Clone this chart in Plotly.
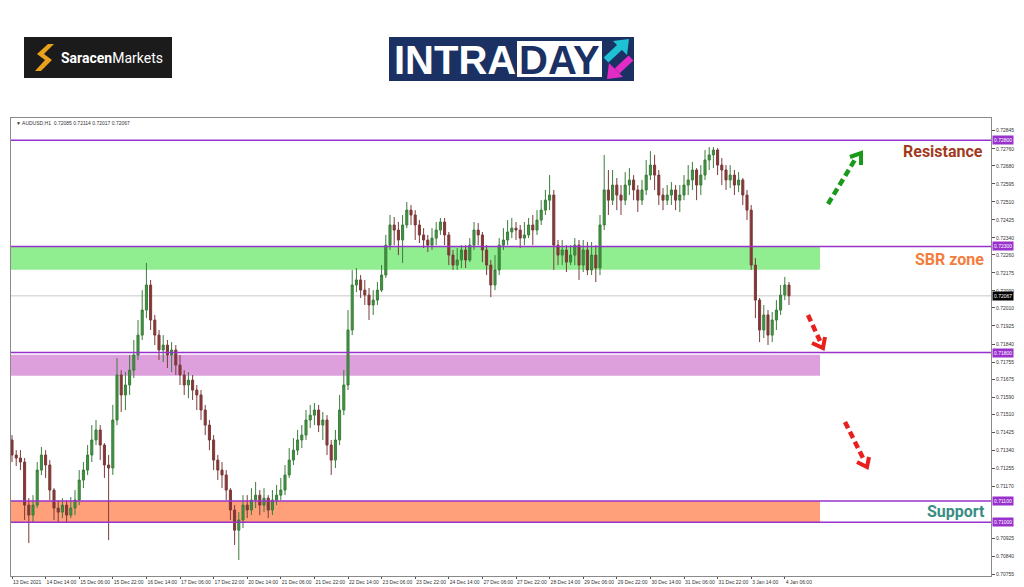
import plotly.graph_objects as go

# ---------------- data (AUDUSD, 2-hour candles) ----------------
opens = [0.71388, 0.71317, 0.71303, 0.71284, 0.71081, 0.71034, 0.71081, 0.71246, 0.71317, 0.71270,
         0.71152, 0.71067, 0.71048, 0.71081, 0.71034, 0.71067, 0.71105, 0.71199, 0.71246, 0.71317,
         0.71388, 0.71435, 0.71364, 0.71270, 0.71256, 0.71482, 0.71694, 0.71600, 0.71647, 0.71717,
         0.71788, 0.71882, 0.72000, 0.72118, 0.71953, 0.71882, 0.71812, 0.71835, 0.71788, 0.71812,
         0.71741, 0.71694, 0.71647, 0.71670, 0.71623, 0.71600, 0.71529, 0.71458, 0.71388, 0.71293,
         0.71246, 0.71223, 0.71152, 0.71058, 0.70963, 0.71011, 0.71081, 0.71058, 0.71105, 0.71128,
         0.71081, 0.71114, 0.71058, 0.71105, 0.71128, 0.71152, 0.71223, 0.71293, 0.71340, 0.71388,
         0.71411, 0.71482, 0.71505, 0.71529, 0.71458, 0.71482, 0.71364, 0.71293, 0.71388, 0.71529,
         0.71647, 0.71906, 0.72118, 0.72142, 0.72094, 0.72071, 0.72024, 0.72047, 0.72094, 0.72165,
         0.72306, 0.72401, 0.72377, 0.72330, 0.72401, 0.72471, 0.72448, 0.72401, 0.72354, 0.72330,
         0.72306, 0.72339, 0.72377, 0.72415, 0.72354, 0.72259, 0.72212, 0.72236, 0.72283, 0.72236,
         0.72306, 0.72377, 0.72354, 0.72283, 0.72212, 0.72118, 0.72189, 0.72306, 0.72330, 0.72368,
         0.72386, 0.72377, 0.72339, 0.72354, 0.72401, 0.72377, 0.72424, 0.72471, 0.72518, 0.72542,
         0.72306, 0.72259, 0.72283, 0.72226, 0.72259, 0.72306, 0.72212, 0.72283, 0.72189, 0.72259,
         0.72198, 0.72401, 0.72566, 0.72518, 0.72589, 0.72542, 0.72518, 0.72589, 0.72613, 0.72566,
         0.72518, 0.72566, 0.72636, 0.72683, 0.72636, 0.72542, 0.72518, 0.72542, 0.72566, 0.72518,
         0.72542, 0.72589, 0.72613, 0.72660, 0.72589, 0.72636, 0.72707, 0.72731, 0.72754, 0.72683,
         0.72660, 0.72613, 0.72636, 0.72589, 0.72613, 0.72542, 0.72471, 0.72212, 0.72047, 0.71906,
         0.71977, 0.71882, 0.71953, 0.72000, 0.72071, 0.72118]
highs = [0.71411, 0.71340, 0.71340, 0.71303, 0.71114, 0.71128, 0.71284, 0.71355, 0.71340, 0.71293,
         0.71161, 0.71105, 0.71114, 0.71105, 0.71119, 0.71152, 0.71246, 0.71284, 0.71364, 0.71458,
         0.71482, 0.71458, 0.71373, 0.71317, 0.71553, 0.71774, 0.71717, 0.71708, 0.71788, 0.71859,
         0.71953, 0.72094, 0.72222, 0.72142, 0.71977, 0.71906, 0.71882, 0.71859, 0.71849, 0.71835,
         0.71788, 0.71717, 0.71708, 0.71694, 0.71647, 0.71623, 0.71553, 0.71482, 0.71411, 0.71317,
         0.71284, 0.71246, 0.71161, 0.71081, 0.71048, 0.71128, 0.71128, 0.71161, 0.71190, 0.71152,
         0.71161, 0.71128, 0.71152, 0.71176, 0.71209, 0.71270, 0.71350, 0.71397, 0.71435, 0.71458,
         0.71529, 0.71553, 0.71562, 0.71553, 0.71520, 0.71505, 0.71388, 0.71435, 0.71600, 0.71717,
         0.72000, 0.72189, 0.72198, 0.72165, 0.72142, 0.72104, 0.72094, 0.72132, 0.72212, 0.72354,
         0.72448, 0.72438, 0.72415, 0.72448, 0.72509, 0.72495, 0.72471, 0.72424, 0.72386, 0.72354,
         0.72386, 0.72415, 0.72434, 0.72434, 0.72368, 0.72283, 0.72292, 0.72306, 0.72306, 0.72339,
         0.72415, 0.72410, 0.72368, 0.72306, 0.72236, 0.72259, 0.72339, 0.72386, 0.72424, 0.72434,
         0.72415, 0.72401, 0.72415, 0.72434, 0.72448, 0.72471, 0.72518, 0.72566, 0.72636, 0.72566,
         0.72330, 0.72330, 0.72306, 0.72306, 0.72339, 0.72330, 0.72330, 0.72321, 0.72321, 0.72306,
         0.72448, 0.72731, 0.72660, 0.72660, 0.72622, 0.72589, 0.72650, 0.72669, 0.72636, 0.72589,
         0.72613, 0.72707, 0.72749, 0.72731, 0.72660, 0.72575, 0.72589, 0.72603, 0.72589, 0.72589,
         0.72636, 0.72683, 0.72698, 0.72669, 0.72683, 0.72754, 0.72768, 0.72768, 0.72763, 0.72716,
         0.72683, 0.72683, 0.72660, 0.72650, 0.72622, 0.72566, 0.72495, 0.72245, 0.72057, 0.72024,
         0.72000, 0.71991, 0.72047, 0.72118, 0.72156, 0.72132]
lows = [0.71284, 0.71265, 0.71246, 0.71011, 0.70902, 0.71001, 0.71067, 0.71223, 0.71209, 0.71105,
        0.71011, 0.71001, 0.71020, 0.71001, 0.71020, 0.71034, 0.71081, 0.71161, 0.71223, 0.71284,
        0.71364, 0.71293, 0.71209, 0.70916, 0.71223, 0.71458, 0.71520, 0.71529, 0.71600, 0.71680,
        0.71765, 0.71859, 0.71962, 0.71906, 0.71835, 0.71765, 0.71755, 0.71727, 0.71708, 0.71694,
        0.71647, 0.71600, 0.71585, 0.71576, 0.71529, 0.71482, 0.71411, 0.71340, 0.71246, 0.71199,
        0.71161, 0.71105, 0.71011, 0.70893, 0.70822, 0.70973, 0.71020, 0.71034, 0.71067, 0.71034,
        0.71048, 0.71020, 0.71034, 0.71081, 0.71105, 0.71128, 0.71209, 0.71270, 0.71317, 0.71350,
        0.71388, 0.71444, 0.71458, 0.71425, 0.71388, 0.71317, 0.71223, 0.71256, 0.71364, 0.71505,
        0.71623, 0.71882, 0.72085, 0.72057, 0.72024, 0.71953, 0.71977, 0.72024, 0.72085, 0.72151,
        0.72283, 0.72306, 0.72259, 0.72222, 0.72386, 0.72401, 0.72330, 0.72316, 0.72292, 0.72273,
        0.72283, 0.72306, 0.72354, 0.72306, 0.72212, 0.72189, 0.72189, 0.72198, 0.72198, 0.72226,
        0.72283, 0.72306, 0.72226, 0.72165, 0.72061, 0.72094, 0.72165, 0.72283, 0.72306, 0.72339,
        0.72330, 0.72292, 0.72306, 0.72339, 0.72306, 0.72354, 0.72401, 0.72448, 0.72471, 0.72189,
        0.72212, 0.72212, 0.72179, 0.72212, 0.72212, 0.72142, 0.72179, 0.72165, 0.72165, 0.72132,
        0.72165, 0.72377, 0.72448, 0.72495, 0.72471, 0.72448, 0.72495, 0.72542, 0.72518, 0.72462,
        0.72495, 0.72542, 0.72613, 0.72566, 0.72495, 0.72471, 0.72495, 0.72495, 0.72471, 0.72462,
        0.72518, 0.72542, 0.72566, 0.72518, 0.72542, 0.72613, 0.72660, 0.72669, 0.72636, 0.72589,
        0.72566, 0.72575, 0.72542, 0.72556, 0.72495, 0.72424, 0.72189, 0.71962, 0.71849, 0.71868,
        0.71835, 0.71849, 0.71906, 0.71977, 0.72047, 0.72024]
closes = [0.71317, 0.71303, 0.71284, 0.71081, 0.71034, 0.71081, 0.71246, 0.71317, 0.71270, 0.71152,
          0.71067, 0.71048, 0.71081, 0.71034, 0.71067, 0.71105, 0.71199, 0.71246, 0.71317, 0.71388,
          0.71435, 0.71364, 0.71270, 0.71256, 0.71482, 0.71694, 0.71600, 0.71647, 0.71717, 0.71788,
          0.71882, 0.72000, 0.72118, 0.71953, 0.71882, 0.71812, 0.71835, 0.71788, 0.71812, 0.71741,
          0.71694, 0.71647, 0.71670, 0.71623, 0.71600, 0.71529, 0.71458, 0.71388, 0.71293, 0.71246,
          0.71223, 0.71152, 0.71058, 0.70963, 0.71011, 0.71081, 0.71058, 0.71105, 0.71128, 0.71081,
          0.71114, 0.71058, 0.71105, 0.71128, 0.71152, 0.71223, 0.71293, 0.71340, 0.71388, 0.71411,
          0.71482, 0.71505, 0.71529, 0.71458, 0.71482, 0.71364, 0.71293, 0.71388, 0.71529, 0.71647,
          0.71906, 0.72118, 0.72142, 0.72094, 0.72071, 0.72024, 0.72047, 0.72094, 0.72165, 0.72306,
          0.72401, 0.72377, 0.72330, 0.72401, 0.72471, 0.72448, 0.72401, 0.72354, 0.72330, 0.72306,
          0.72339, 0.72377, 0.72415, 0.72354, 0.72259, 0.72212, 0.72236, 0.72283, 0.72236, 0.72306,
          0.72377, 0.72354, 0.72283, 0.72212, 0.72118, 0.72189, 0.72306, 0.72330, 0.72368, 0.72386,
          0.72377, 0.72339, 0.72354, 0.72401, 0.72377, 0.72424, 0.72471, 0.72518, 0.72542, 0.72306,
          0.72259, 0.72283, 0.72226, 0.72259, 0.72306, 0.72212, 0.72283, 0.72189, 0.72259, 0.72198,
          0.72401, 0.72566, 0.72518, 0.72589, 0.72542, 0.72518, 0.72589, 0.72613, 0.72566, 0.72518,
          0.72566, 0.72636, 0.72683, 0.72636, 0.72542, 0.72518, 0.72542, 0.72566, 0.72518, 0.72542,
          0.72589, 0.72613, 0.72660, 0.72589, 0.72636, 0.72707, 0.72731, 0.72754, 0.72683, 0.72660,
          0.72613, 0.72636, 0.72589, 0.72613, 0.72542, 0.72471, 0.72212, 0.72047, 0.71906, 0.71977,
          0.71882, 0.71953, 0.72000, 0.72071, 0.72118, 0.72067]

tick_bars = [0, 8, 16, 24, 32, 40, 48, 56, 64, 72, 80, 88, 96, 104, 112, 120,
             128, 136, 144, 152, 160, 168, 176, 184]
tick_labels = ["13 Dec 2021", "14 Dec 14:00", "15 Dec 06:00", "15 Dec 22:00", "16 Dec 14:00",
               "17 Dec 06:00", "17 Dec 22:00", "20 Dec 14:00", "21 Dec 06:00", "21 Dec 22:00",
               "22 Dec 14:00", "23 Dec 06:00", "23 Dec 22:00", "24 Dec 14:00", "27 Dec 06:00",
               "27 Dec 22:00", "28 Dec 14:00", "29 Dec 06:00", "29 Dec 22:00", "30 Dec 14:00",
               "31 Dec 06:00", "31 Dec 22:00", "3 Jan 14:00", "4 Jan 06:00"]
price_ticks = [0.70755, 0.70840, 0.70925, 0.71170, 0.71255, 0.71340, 0.71425, 0.71510,
               0.71590, 0.71675, 0.71755, 0.71840, 0.71925, 0.72010, 0.72090, 0.72175,
               0.72260, 0.72340, 0.72425, 0.72510, 0.72595, 0.72680, 0.72760, 0.72845]

level_lines = [0.72800, 0.72300, 0.71800, 0.71100, 0.71000]
sbr_zone = (0.72190, 0.72300)
lower_zone = (0.71690, 0.71790)
support_zone = (0.71000, 0.71100)
last_price = 0.72067
header = "▼ AUDUSD,H1  0.72085 0.72114 0.72017 0.72067"

# ---------------- layout helpers (page pixels -> paper) ----------------
OFF = 8                      # default page body margin of the html page
W, H = 1024 - OFF, 587 - OFF
L, R, T, B = 11, 991, 118, 576   # plot frame in page pixels
def px(x):
    return (x - L) / (R - L)
def py(y):
    return (B - y) / (B - T)
def path(points, close=False):
    s = "M " + " L ".join(f"{px(x):.5f},{py(y):.5f}" for x, y in points)
    return s + (" Z" if close else "")

bars = list(range(len(closes)))

fig = go.Figure()
fig.add_trace(go.Candlestick(
    x=bars, open=opens, high=highs, low=lows, close=closes,
    increasing=dict(line=dict(color="#3b7d3b", width=1), fillcolor="#3f963f"),
    decreasing=dict(line=dict(color="#7a3b3b", width=1), fillcolor="#8b3434"),
    whiskerwidth=0, hoverinfo="skip", showlegend=False))

shapes = []
for (lo, hi), col in [(sbr_zone, "#90EE90"), (lower_zone, "#DDA0DD"), (support_zone, "#FFA07A")]:
    shapes.append(dict(type="rect", xref="paper", yref="y", x0=0, x1=px(820), y0=lo, y1=hi,
                       fillcolor=col, line=dict(width=0), layer="below"))
shapes.append(dict(type="line", xref="paper", yref="y", x0=0, x1=1, y0=last_price, y1=last_price,
                   line=dict(color="#c8c8c8", width=1), layer="below"))
for lv in level_lines:
    shapes.append(dict(type="line", xref="paper", yref="y", x0=0, x1=1, y0=lv, y1=lv,
                       line=dict(color="#9932CC", width=1.5), layer="above"))

def dashed_arrow(p0, p1, tip, arm1, arm2, color):
    shapes.append(dict(type="line", xref="paper", yref="paper",
                       x0=px(p0[0]), y0=py(p0[1]), x1=px(p1[0]), y1=py(p1[1]),
                       line=dict(color=color, width=4.5, dash="7px,4px")))
    shapes.append(dict(type="path", xref="paper", yref="paper",
                       path=path([arm1, tip, arm2]), line=dict(color=color, width=4)))

dashed_arrow((828, 204), (856, 158), (861, 153), (850, 157), (861, 165), "#1a9a1a")
dashed_arrow((808, 315), (820, 341), (823, 348), (812, 343), (825, 337), "#e8201c")
dashed_arrow((845, 422), (864, 460), (867, 467), (857, 462), (869, 457), "#e8201c")

# ---- logos ----
shapes.append(dict(type="rect", xref="paper", yref="paper", x0=px(24), x1=px(172), y0=py(78), y1=py(37),
                   fillcolor="#1b1b1b", line=dict(width=0)))
shapes.append(dict(type="path", xref="paper", yref="paper",
                   path=path([(48, 44), (37, 54), (45, 60), (35, 71), (41, 71), (52, 60), (44, 54), (54, 44)], True),
                   fillcolor="#E8A21C", line=dict(width=0)))
shapes.append(dict(type="rect", xref="paper", yref="paper", x0=px(389), x1=px(634), y0=py(81), y1=py(37),
                   fillcolor="#1b3163", line=dict(width=0)))
shapes.append(dict(type="rect", xref="paper", yref="paper", x0=px(517), x1=px(602), y0=py(77), y1=py(41),
                   fillcolor="#ffffff", line=dict(width=0)))
shapes.append(dict(type="line", xref="paper", yref="paper", x0=px(606), y0=py(60), x1=px(620), y1=py(47),
                   line=dict(color="#1fc2d4", width=7)))
shapes.append(dict(type="path", xref="paper", yref="paper",
                   path=path([(629, 39), (613, 41), (627, 55)], True), fillcolor="#1fc2d4", line=dict(width=0)))
shapes.append(dict(type="line", xref="paper", yref="paper", x0=px(631), y0=py(58), x1=px(617), y1=py(71),
                   line=dict(color="#e32bc6", width=7)))
shapes.append(dict(type="path", xref="paper", yref="paper",
                   path=path([(607, 79), (623, 77), (609, 63)], True), fillcolor="#e32bc6", line=dict(width=0)))

annotations = []
def text(x, y, s, size, color, anchor="center", family="Roboto"):
    annotations.append(dict(xref="paper", yref="paper", x=px(x), y=py(y), text=s, showarrow=False,
                            xanchor=anchor, yanchor="middle",
                            font=dict(size=size, color=color, family=family)))

text(59, 58, "<b>Saracen</b>Markets", 14, "#ffffff", "left")
text(455, 60, "<b>INTRA</b>", 40, "#ffffff", "center", "Liberation Sans")
text(559.5, 60, "<b>DAY</b>", 40, "#1b3163", "center", "Liberation Sans")
text(14, 123, header, 5, "#333333", "left", "Liberation Sans")
text(943, 151, "<b>Resistance</b>", 16, "#A23B1E")
text(949, 260, "<b>SBR zone</b>", 16, "#F47C3C")
text(956, 511, "<b>Support</b>", 16, "#3A8C85")

for lv in level_lines:
    annotations.append(dict(xref="paper", yref="y", x=1, y=lv, xanchor="left", yanchor="middle",
                            xshift=1, text=f"{lv:.5f}", showarrow=False, bgcolor="#9932CC",
                            borderpad=1, font=dict(size=5, color="#ffffff", family="Liberation Sans")))
annotations.append(dict(xref="paper", yref="y", x=1, y=last_price, xanchor="left", yanchor="middle",
                        xshift=1, text=f"{last_price:.5f}", showarrow=False, bgcolor="#000000",
                        borderpad=1, font=dict(size=5, color="#ffffff", family="Liberation Sans")))

fig.update_layout(
    width=W, height=H,
    margin=dict(l=L - OFF, r=1024 - R, t=T - OFF, b=587 - B, autoexpand=False),
    paper_bgcolor="#ffffff", plot_bgcolor="#ffffff",
    shapes=shapes, annotations=annotations, showlegend=False,
    xaxis=dict(range=[-0.24, (R - 12) / 4.2], rangeslider=dict(visible=False),
               tickvals=tick_bars, ticktext=tick_labels, ticks="outside", ticklen=2,
               tickangle=0, tickcolor="#555555", ticklabelposition="outside right",
               ticklabelstandoff=1,
               tickfont=dict(size=5, color="#333333", family="Liberation Sans"),
               showgrid=False, zeroline=False, showline=True, linecolor="#8a8a8a",
               linewidth=1, mirror=True, automargin=False),
    yaxis=dict(range=[0.70747, 0.72905], side="right", tickvals=price_ticks, tickformat=".5f",
               ticks="outside", ticklen=3, tickcolor="#555555",
               tickfont=dict(size=5, color="#333333", family="Liberation Sans"),
               showgrid=False, zeroline=False, showline=True, linecolor="#8a8a8a",
               linewidth=1, mirror=True, automargin=False),
)

fig.write_html("out.html")
